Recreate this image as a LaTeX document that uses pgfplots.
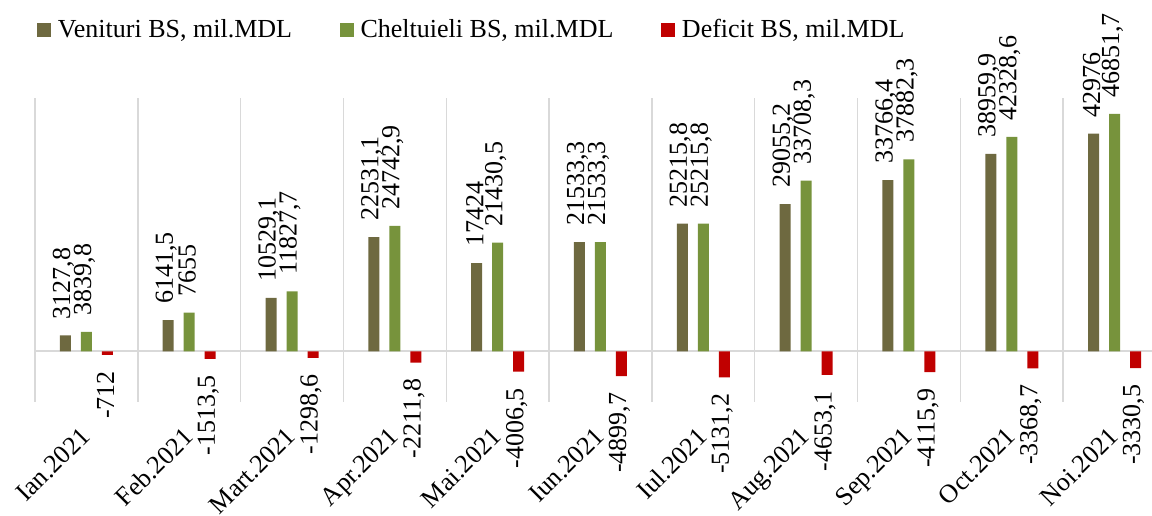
\documentclass[border=0pt]{standalone}
\usepackage{fontspec}
\setmainfont{Liberation Serif}
\usepackage{pgfplots}
\pgfplotsset{compat=1.18}
\definecolor{cVen}{HTML}{6E6940}
\definecolor{cChe}{HTML}{77933C}
\definecolor{cDef}{HTML}{C00000}
\definecolor{cGrid}{HTML}{D9D9D9}
\newcommand{\cf}{\fontsize{13}{15}\selectfont}
\begin{document}
\begin{tikzpicture}
\begin{axis}[
  name=ax,
  scale only axis,
  width=558.5pt, height=152pt,
  xmin=-0.5, xmax=10.364,
  ymin=-10000, ymax=50000,
  enlargelimits=false,
  clip=false,
  ybar=5pt, bar width=5.5pt,
  axis line style={draw=none},
  major tick length=0pt, minor tick length=0pt,
  ytick=\empty,
  xtick={0,1,2,3,4,5,6,7,8,9,10},
  xticklabels={Ian.2021,Feb.2021,Mart.2021,Apr.2021,Mai.2021,Iun.2021,Iul.2021,Aug.2021,Sep.2021,Oct.2021,Noi.2021},
  xticklabel style={rotate=45, anchor=north east, font=\cf, inner sep=1pt, xshift=-9.8pt, yshift=-4.7pt},
  minor xtick={-0.5,0.5,1.5,2.5,3.5,4.5,5.5,6.5,7.5,8.5,9.5},
  xminorgrids,
  minor grid style={draw=cGrid, line width=0.75pt},
  extra y ticks={0},
  extra y tick labels={},
  extra y tick style={ymajorgrids, major grid style={draw=cGrid, line width=1pt}},
  nodes near coords,
  every node near coord/.append style={font=\cf, rotate=90, inner ysep=0pt, yshift=1pt},
  /pgf/number format/.cd, use comma, 1000 sep={}, fixed, precision=1, assume math mode=true,
  /pgfplots/.cd,
  legend columns=3,
  legend style={draw=none, fill=none, font=\cf, at={(axis description cs:0,1)}, anchor=west, xshift=-2pt, yshift=34pt,
    /tikz/every odd column/.append style={column sep=1.5pt},
    /tikz/every even column/.append style={column sep=22pt}},
  legend image code/.code={\fill[#1] (0pt,-3.4pt) rectangle (6.8pt,3.4pt);},
]
\addplot[fill=cVen, draw=none, every node near coord/.append style={anchor=west, inner xsep=8pt}] coordinates {
(0,3127.8) (1,6141.5) (2,10529.1) (3,22531.1) (4,17424) (5,21533.3) (6,25215.8) (7,29055.2) (8,33766.4) (9,38959.9) (10,42976)};
\addplot[fill=cChe, draw=none, every node near coord/.append style={anchor=west, inner xsep=8pt}] coordinates {
(0,3839.8) (1,7655) (2,11827.7) (3,24742.9) (4,21430.5) (5,21533.3) (6,25215.8) (7,33708.3) (8,37882.3) (9,42328.6) (10,46851.7)};
\addplot[fill=cDef, draw=none, every node near coord/.append style={anchor=east, inner xsep=8pt}] coordinates {
(0,-712) (1,-1513.5) (2,-1298.6) (3,-2211.8) (4,-4006.5) (5,-4899.7) (6,-5131.2) (7,-4653.1) (8,-4115.9) (9,-3368.7) (10,-3330.5)};
\legend{{Venituri BS, mil.MDL}, {Cheltuieli BS, mil.MDL}, {Deficit BS, mil.MDL}}
\end{axis}
\pgfresetboundingbox
\path[use as bounding box] ([xshift=-17.5pt,yshift=-57pt]ax.south west) rectangle ([yshift=49pt]ax.north east);
\end{tikzpicture}
\end{document}
